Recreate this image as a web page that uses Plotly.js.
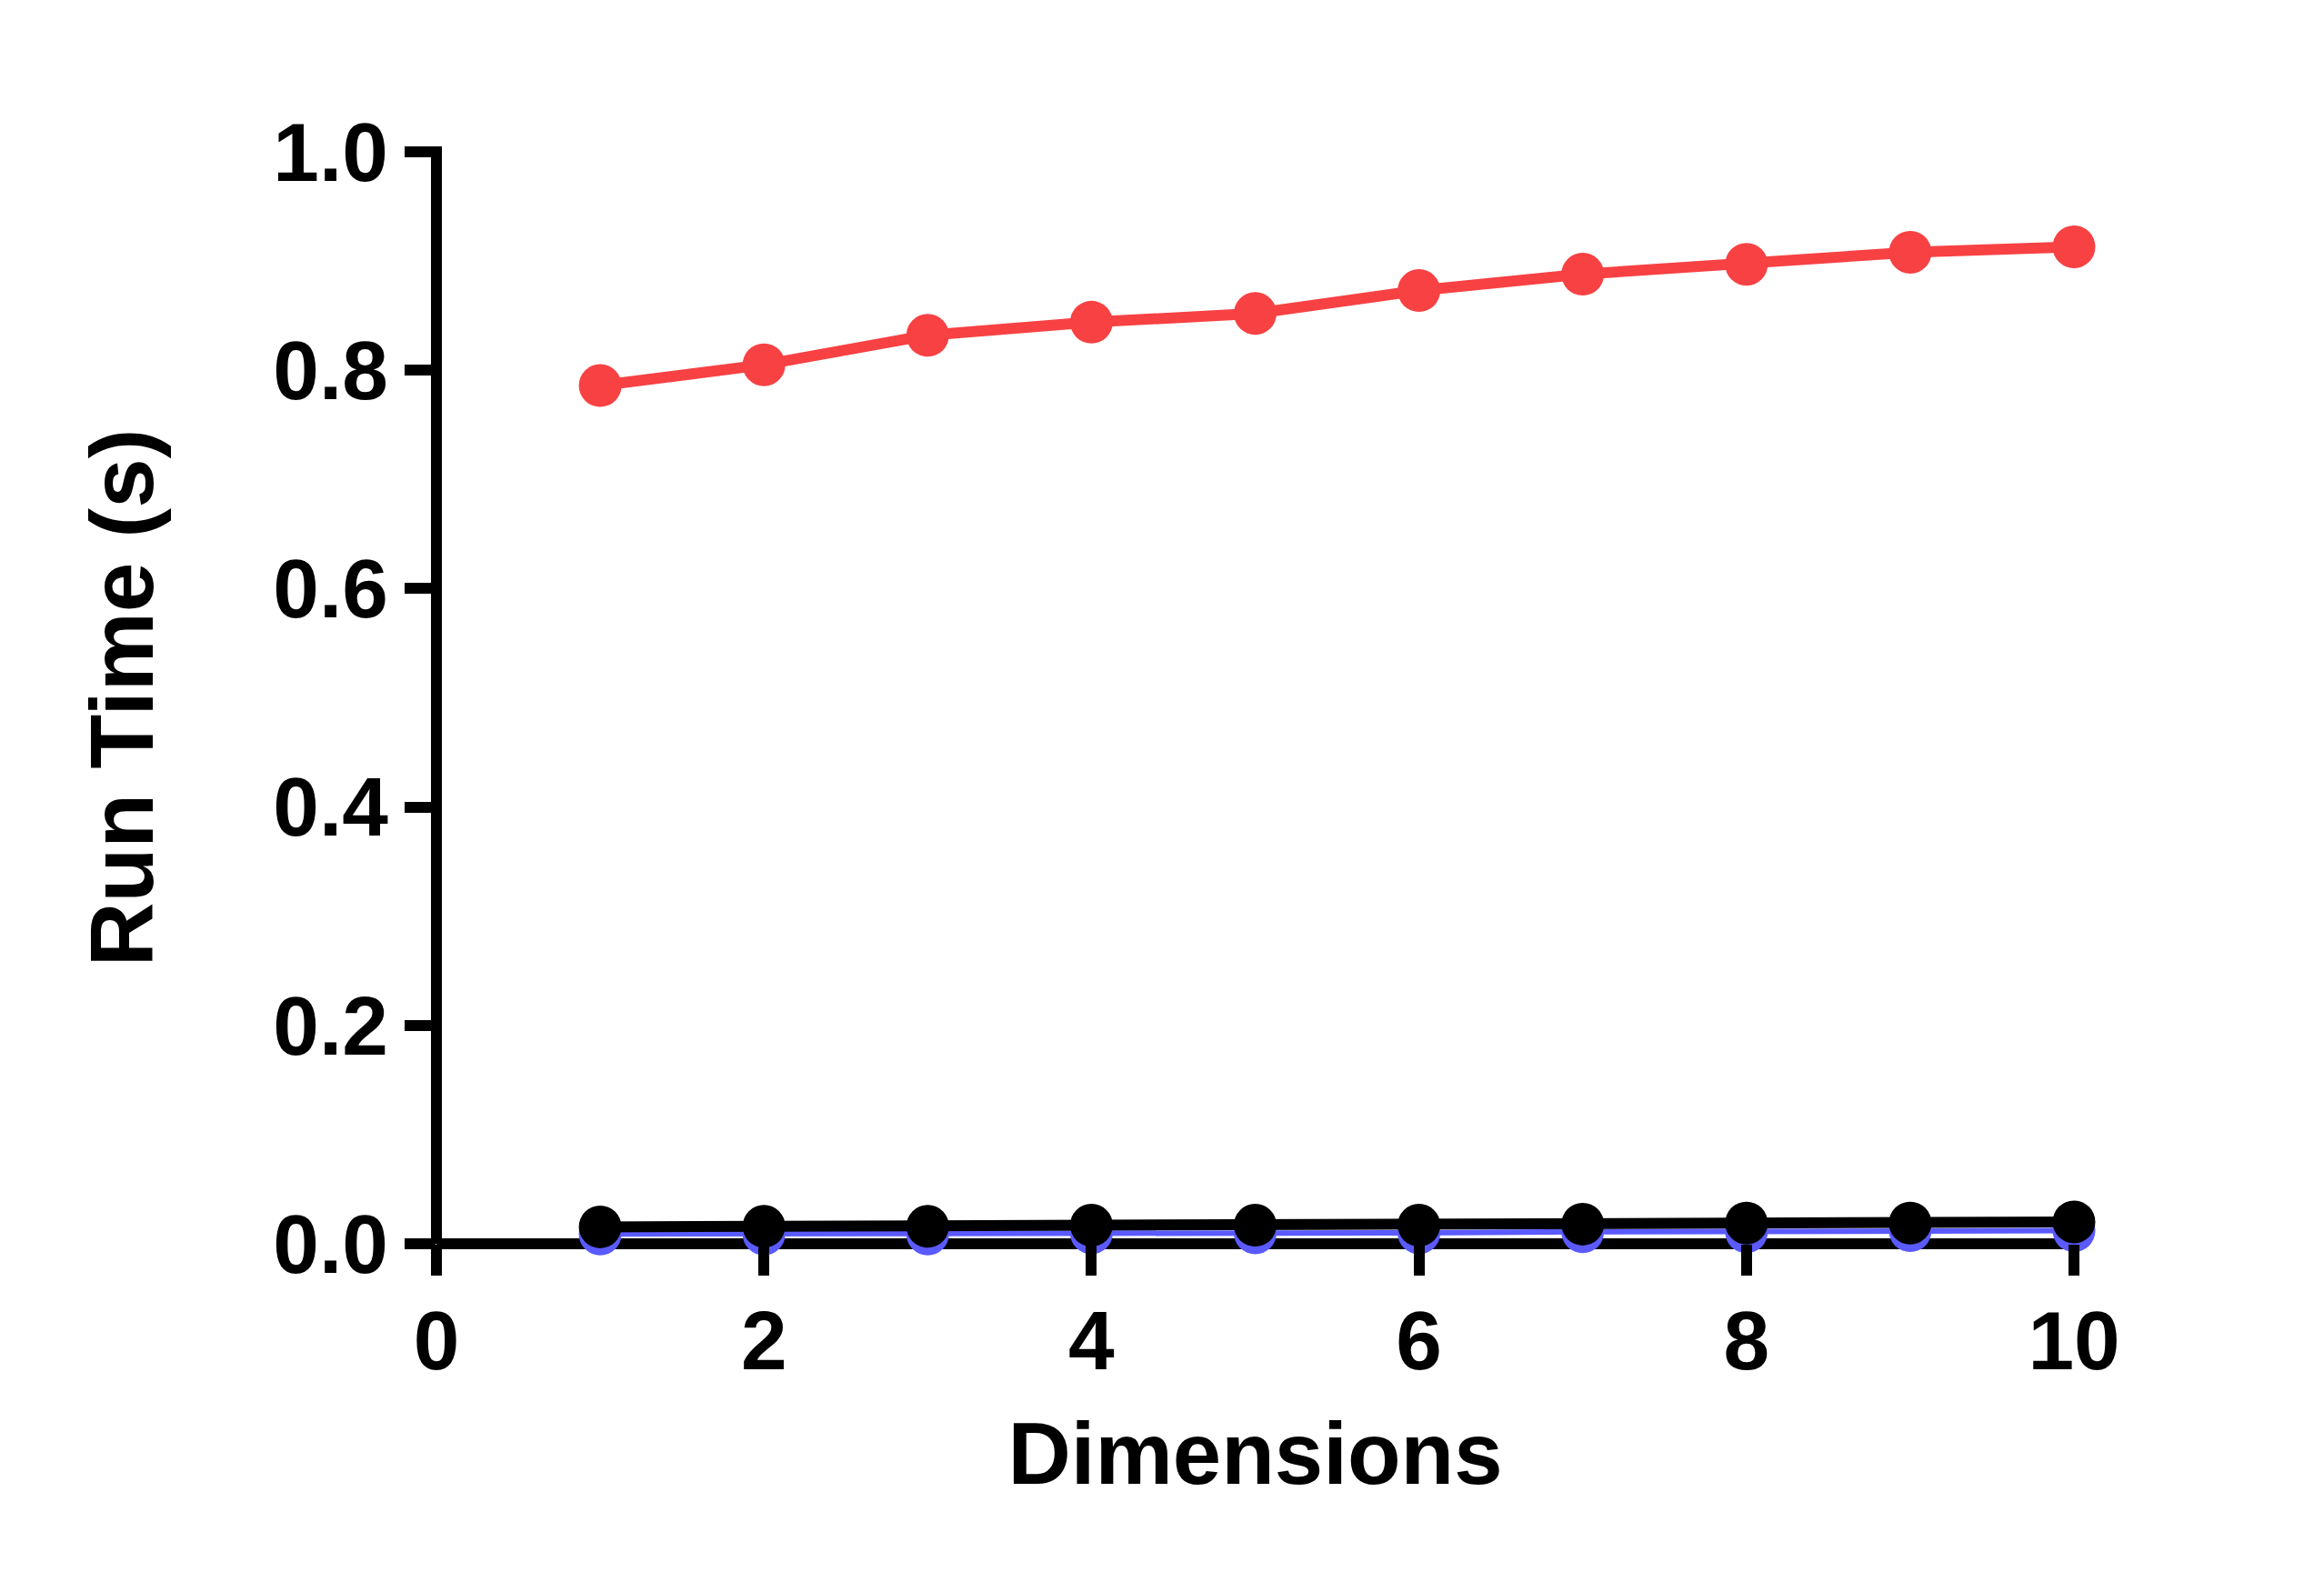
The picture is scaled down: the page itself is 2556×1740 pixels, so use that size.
<!DOCTYPE html>
<html>
<head>
<meta charset="utf-8">
<script src="https://cdn.plot.ly/plotly-3.0.1.min.js"></script>
<style>html,body{margin:0;padding:0;background:#fff;}#chart{width:2556px;height:1740px;}</style>
</head>
<body>
<div id="chart"></div>
<script>
const dimensions = [1, 2, 3, 4, 5, 6, 7, 8, 9, 10];
const redTimes   = [0.786, 0.805, 0.832, 0.844, 0.852, 0.873, 0.888, 0.897, 0.908, 0.913];
const blackTimes = [0.0155, 0.016, 0.016, 0.017, 0.017, 0.017, 0.018, 0.019, 0.019, 0.020];
const blueTimes  = [0.009, 0.009, 0.009, 0.010, 0.010, 0.010, 0.011, 0.011, 0.012, 0.012];
const xTicks = [0, 2, 4, 6, 8, 10];
const yTicks = [0, 0.2, 0.4, 0.6, 0.8, 1.0];

const FONT = 'Liberation Sans, Arial, sans-serif';

function series(y, color, lw) {
  return {
    x: dimensions, y: y, type: 'scatter', mode: 'lines+markers',
    line: {color: color, width: lw},
    marker: {color: color, size: 47, symbol: 'circle', line: {width: 0}},
    cliponaxis: false, showlegend: false, hoverinfo: 'skip'
  };
}

const data = [
  series(blueTimes, 'rgb(90,90,255)', 6),
  series(blackTimes, '#000000', 12),
  series(redTimes, 'rgb(248,65,67)', 12)
];

const axisLine = {color: '#000', width: 12};

const layout = {
  width: 2556, height: 1740,
  margin: {l: 480, r: 275, t: 167, b: 372, pad: 0},
  paper_bgcolor: '#ffffff', plot_bgcolor: '#ffffff',
  showlegend: false,
  font: {family: FONT, color: '#000', size: 90, weight: 'bold'},
  shapes: [
    {type: 'line', xref: 'paper', yref: 'paper', x0: 0, x1: 0, y0: 0, y1: 1.005, line: axisLine, layer: 'below'},
    {type: 'line', xref: 'paper', yref: 'paper', x0: 0, x1: 1.003, y0: 0, y1: 0, line: axisLine, layer: 'below'}
  ],
  xaxis: {
    range: [0, 10], tickvals: xTicks, ticktext: xTicks.map(String),
    showgrid: false, showline: false, zeroline: false,
    ticks: 'outside', ticklen: 34, tickwidth: 12, tickcolor: '#000',
    tickfont: {family: FONT, size: 91, color: '#000', weight: 'bold'},
    ticklabelstandoff: -6,
    automargin: false,
    title: {text: 'Dimensions', font: {family: FONT, size: 96, color: '#000', weight: 'bold'}, standoff: 40}
  },
  yaxis: {
    range: [0, 1], tickvals: yTicks, ticktext: yTicks.map(v => v.toFixed(1)),
    showgrid: false, showline: false, zeroline: false,
    ticks: 'outside', ticklen: 34, tickwidth: 12, tickcolor: '#000',
    tickfont: {family: FONT, size: 91, color: '#000', weight: 'bold'},
    automargin: false,
    title: {text: 'Run Time (s)', font: {family: FONT, size: 98, color: '#000', weight: 'bold'}, standoff: 98}
  }
};

Plotly.newPlot('chart', data, layout, {staticPlot: true, displayModeBar: false});
</script>
</body>
</html>
